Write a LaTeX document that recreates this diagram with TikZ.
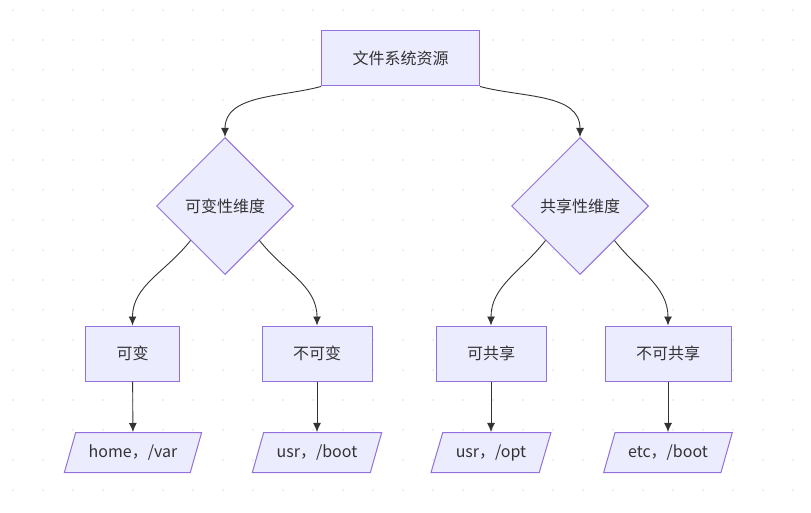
\documentclass[tikz,border=0pt]{standalone}
\usepackage{fontspec}
\setmainfont{Noto Sans CJK SC}
\usetikzlibrary{arrows.meta,shapes.geometric}
\definecolor{mmfill}{HTML}{ECECFF}
\definecolor{mmline}{HTML}{9370DB}
\definecolor{mmtext}{HTML}{333333}
\tikzset{
  box/.style={rectangle, draw=mmline, fill=mmfill, line width=1pt, minimum height=55pt, inner xsep=31pt, text=mmtext},
  choice/.style={diamond, draw=mmline, fill=mmfill, line width=1pt, minimum width=137pt, minimum height=137pt, inner sep=0pt, text=mmtext},
  datum/.style={trapezium, trapezium left angle=63, trapezium right angle=117, trapezium stretches=true, draw=mmline, fill=mmfill, line width=1pt, minimum height=40pt, inner xsep=13pt, text=mmtext},
  arrow/.style={-{Latex[length=9pt,width=8pt]}, line width=0.9pt, draw=mmtext},
  griddot/.style={fill=gray!18}
}

\begin{document}
\begin{tikzpicture}[x=1pt, y=-1pt, font=\fontsize{16}{19}\selectfont]
  \useasboundingbox (0,0) rectangle (811,513);
  \foreach \x in {13,43,...,793} \foreach \y in {10,40,...,490} \fill[griddot] (\x,\y) circle (1.1pt);
  \node[box] (r) at (400.5,58.5) {文件系统资源};
  \node[choice] (m) at (225,206) {可变性维度};
  \node[choice] (s) at (580,206) {共享性维度};
  \node[box] (m1) at (132.5,353.5) {可变};
  \node[box] (m2) at (317,353.5) {不可变};
  \node[box] (s1) at (491,353.5) {可共享};
  \node[box] (s2) at (668,353.5) {不可共享};
  \node[datum] (d1) at (133,452.5) {home，/var};
  \node[datum] (d2) at (317,452.5) {usr，/boot};
  \node[datum] (d3) at (491,452.5) {usr，/opt};
  \node[datum] (d4) at (668,452.5) {etc，/boot};
  \draw[arrow] (r.south west) to[out=195, in=90] (m.north);
  \draw[arrow] (r.south east) to[out=-15, in=90] (s.north);
  \draw[arrow] (m.south west) to[out=-128, in=90] (m1.north);
  \draw[arrow] (m.south east) to[out=-52, in=90] (m2.north);
  \draw[arrow] (s.south west) to[out=-128, in=90] (s1.north);
  \draw[arrow] (s.south east) to[out=-52, in=90] (s2.north);
  \draw[arrow] (m1)--(d1); \draw[arrow] (m2)--(d2); \draw[arrow] (s1)--(d3); \draw[arrow] (s2)--(d4);
\end{tikzpicture}
\end{document}
